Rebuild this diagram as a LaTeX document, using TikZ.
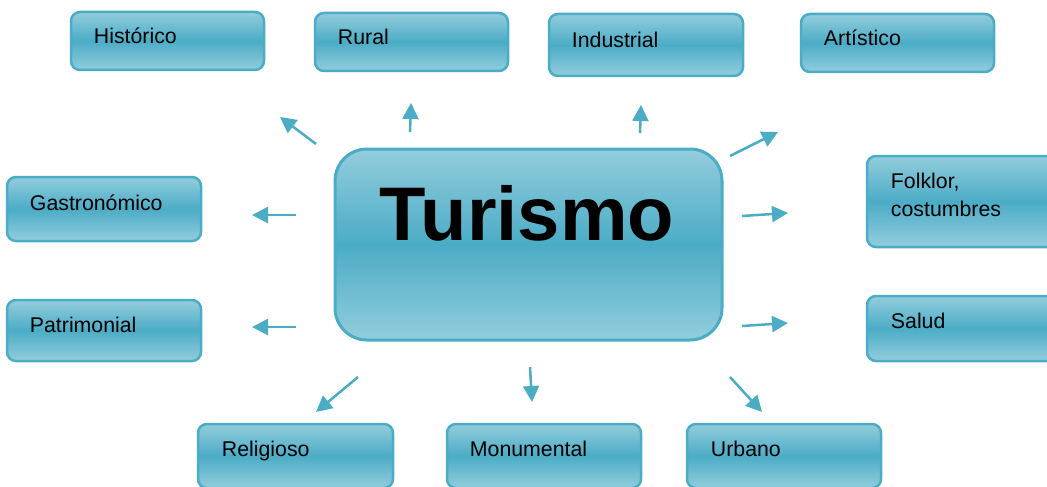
\documentclass[tikz,border=0pt]{standalone}
\usepackage{fontspec}
\setmainfont{Liberation Sans}
\usetikzlibrary{arrows.meta}
\definecolor{celeste}{RGB}{147,205,221}
\definecolor{turquesa}{RGB}{75,172,198}
\begin{document}
\begin{tikzpicture}[x=1pt,y=-1pt,
    caja/.style={rectangle, rounded corners=9pt, draw=turquesa, line width=2.5pt, top color=celeste, bottom color=celeste, middle color=turquesa, inner sep=0pt},
    texto/.style={anchor=base west, inner sep=0pt, font=\fontsize{21.3}{28}\selectfont, align=left},
    flecha/.style={draw=turquesa, line width=2.5pt, -{Triangle[length=16pt,width=16pt]}}]
    \useasboundingbox (0,0) rectangle (1047,487);
    \clip (0,0) rectangle (1047,487);
    % 
    \node[caja, rounded corners=32pt, line width=3pt, minimum width=387pt, minimum height=191pt] (tur) at (528.5,244.5) {};
    \node[anchor=base, inner sep=0pt, font=\fontsize{76}{80}\selectfont\bfseries] (tur-t) at (527,240) {Turismo};
    % 
    \node[caja, minimum width=193pt, minimum height=58pt] (hist) at (167.5,41) {};
    \node[caja, minimum width=193pt, minimum height=58pt] (rural) at (411.5,42) {};
    \node[caja, minimum width=194pt, minimum height=62pt] (indus) at (646,45) {};
    \node[caja, minimum width=193pt, minimum height=58pt] (arti) at (897.5,43) {};
    \node[caja, minimum width=194pt, minimum height=64pt] (gastro) at (104,209) {};
    \node[caja, minimum width=194pt, minimum height=61pt] (patri) at (104,330.5) {};
    \node[caja, minimum width=193pt, minimum height=91pt] (folk) at (963.5,201.5) {};
    \node[caja, minimum width=193pt, minimum height=65pt] (salud) at (963.5,328.5) {};
    \node[caja, minimum width=195pt, minimum height=64pt] (relig) at (295.5,456) {};
    \node[caja, minimum width=194pt, minimum height=64pt] (monu) at (544,456) {};
    \node[caja, minimum width=194pt, minimum height=64pt] (urb) at (784,456) {};
    % 
    \node[texto] (hist-t) at ([shift={(24,33)}]hist.north west) {Histórico};
    \node[texto] (rural-t) at ([shift={(24,33)}]rural.north west) {Rural};
    \node[texto] (indus-t) at ([shift={(24,35)}]indus.north west) {Industrial};
    \node[texto] (arti-t) at ([shift={(24,33)}]arti.north west) {Artístico};
    \node[texto] (gastro-t) at ([shift={(24,35)}]gastro.north west) {Gastronómico};
    \node[texto] (patri-t) at ([shift={(24,34)}]patri.north west) {Patrimonial};
    \node[texto] (folk-t) at ([shift={(25,62)}]folk.north west) {Folklor,\\costumbres};
    \node[texto] (salud-t) at ([shift={(25,34)}]salud.north west) {Salud};
    \node[texto] (relig-t) at ([shift={(25,34)}]relig.north west) {Religioso};
    \node[texto] (monu-t) at ([shift={(24,34)}]monu.north west) {Monumental};
    \node[texto] (urb-t) at ([shift={(25,34)}]urb.north west) {Urbano};
    % 
    \coordinate (hist-a) at (316,144);   \coordinate (hist-b) at (280,117);
    \coordinate (rural-a) at (410,132);  \coordinate (rural-b) at (411,103);
    \coordinate (indus-a) at (640,133);  \coordinate (indus-b) at (641,105);
    \coordinate (arti-a) at (730,156);   \coordinate (arti-b) at (778,132);
    \coordinate (folk-a) at (742,216);   \coordinate (folk-b) at (788,213);
    \coordinate (salud-a) at (742,326);  \coordinate (salud-b) at (788,323);
    \coordinate (gastro-a) at (296,215); \coordinate (gastro-b) at (252,215);
    \coordinate (patri-a) at (296,327);  \coordinate (patri-b) at (252,327);
    \coordinate (relig-a) at (358,377);  \coordinate (relig-b) at (316,412);
    \coordinate (monu-a) at (530,367);   \coordinate (monu-b) at (532,402);
    \coordinate (urb-a) at (730,377);    \coordinate (urb-b) at (762,412);
    % 
    \draw[flecha] (hist-a) -- (hist-b);
    \draw[flecha] (rural-a) -- (rural-b);
    \draw[flecha] (indus-a) -- (indus-b);
    \draw[flecha] (arti-a) -- (arti-b);
    \draw[flecha] (folk-a) -- (folk-b);
    \draw[flecha] (salud-a) -- (salud-b);
    \draw[flecha] (gastro-a) -- (gastro-b);
    \draw[flecha] (patri-a) -- (patri-b);
    \draw[flecha] (relig-a) -- (relig-b);
    \draw[flecha] (monu-a) -- (monu-b);
    \draw[flecha] (urb-a) -- (urb-b);
  \end{tikzpicture}
\end{document}
